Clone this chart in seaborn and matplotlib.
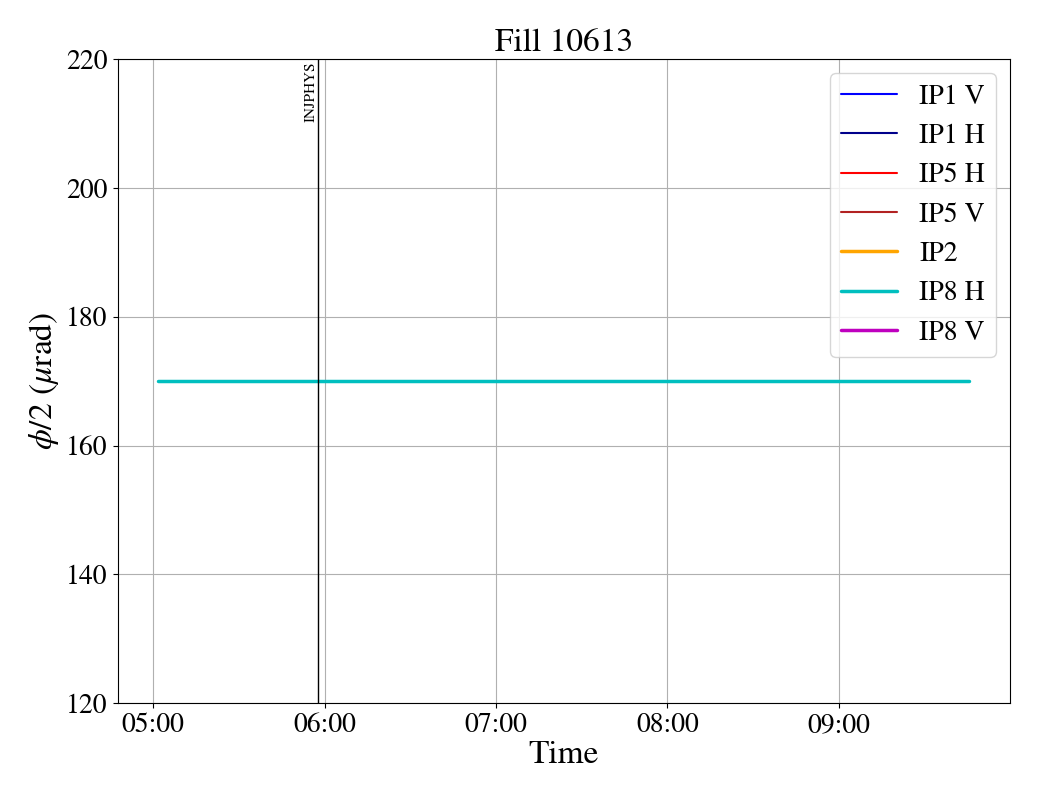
import pandas as pd
import matplotlib
matplotlib.use('Agg')
import matplotlib.pyplot as plt
import matplotlib.dates as mdates
import seaborn as sns

# data
ip8h_time = ['2025-05-20 05:01:45', '2025-05-20 09:45:40']
ip8h_phi = [170, 170]
injphys_time = '2025-05-20 05:57:40'
empty_labels = ['IP1 V', 'IP1 H', 'IP5 H', 'IP5 V', 'IP2']
empty_colors = ['blue', 'darkblue', 'red', 'firebrick', 'orange']
empty_widths = [1.5, 1.5, 1.5, 1.5, 2.5]

sns.set_style('ticks')
plt.rcParams['font.family'] = ['STIXGeneral', 'Liberation Serif', 'DejaVu Serif']
plt.rcParams['mathtext.fontset'] = 'stix'
for k in ['text.color', 'axes.labelcolor', 'xtick.color', 'ytick.color', 'axes.edgecolor']:
    plt.rcParams[k] = 'black'

fig, ax = plt.subplots(figsize=(10.4, 8), dpi=100)
fig.subplots_adjust(left=0.113, right=0.971, top=0.926, bottom=0.121)

for lab, col, lw in zip(empty_labels, empty_colors, empty_widths):
    ax.plot([], [], color=col, lw=lw, label=lab)

df = pd.DataFrame({'time': pd.to_datetime(ip8h_time), 'phi': ip8h_phi})
sns.lineplot(data=df, x='time', y='phi', color='c', lw=2.5, label='IP8 H', ax=ax)
ax.plot([], [], color='m', lw=2.5, label='IP8 V')

t_inj = pd.to_datetime(injphys_time)
ax.axvline(t_inj, color='black', lw=1)
ax.text(t_inj, 219.6, 'INJPHYS', rotation=90, ha='right', va='top', fontsize=11)

ax.set_ylim(120, 220)
ax.xaxis.set_major_locator(mdates.HourLocator())
ax.xaxis.set_major_formatter(mdates.DateFormatter('%H:%M'))
ax.grid(True, color='#b0b0b0', lw=0.8)
ax.tick_params(labelsize=20)
ax.set_xlabel('Time', fontsize=24, labelpad=2)
ax.set_ylabel(r'$\phi/2$ ($\mu$rad)', fontsize=24)
ax.set_title('Fill 10613', fontsize=24)
ax.legend(loc='upper right', fontsize=20, handlelength=2.0, frameon=True)

fig.savefig('out.png')
